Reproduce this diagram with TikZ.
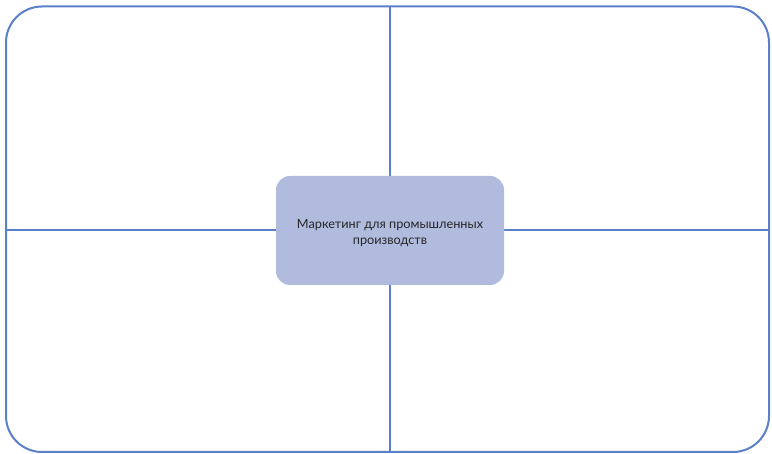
\documentclass[tikz,border=0pt]{standalone}
\usepackage{fontspec}
\setmainfont{Lato}
\begin{document}
\begin{tikzpicture}[x=1pt,y=-1pt,
  frame/.style={draw=lineblue,line width=2pt,rounded corners=36pt},
  divider/.style={draw=lineblue,line width=1.8pt},
  topic/.style={fill=topicfill,draw=none,rounded corners=14pt,
    minimum width=228pt,minimum height=109pt},
  topictext/.style={align=center,inner sep=0pt,
    font=\fontsize{12.7}{15.5}\selectfont,text=black!85}]
\definecolor{lineblue}{HTML}{5B7FC8}
\definecolor{topicfill}{HTML}{B0BBDE}
\useasboundingbox (0,0) rectangle (772,454);
% quadrant dividers
\coordinate (top) at (390,6.5);
\coordinate (bottom) at (390,452);
\coordinate (left) at (6,230);
\coordinate (right) at (769,230);
\draw[divider] (top) -- (bottom);
\draw[divider] (left) -- (right);
% outer frame
\draw[frame] (6,6.5) rectangle (769,452);
% central topic
\node[topic] (center) at (390,230.5) {};
\node[topictext] (centertext) at ([yshift=-2.5pt]center.center) {Маркетинг для промышленных\\производств};
\end{tikzpicture}
\end{document}
